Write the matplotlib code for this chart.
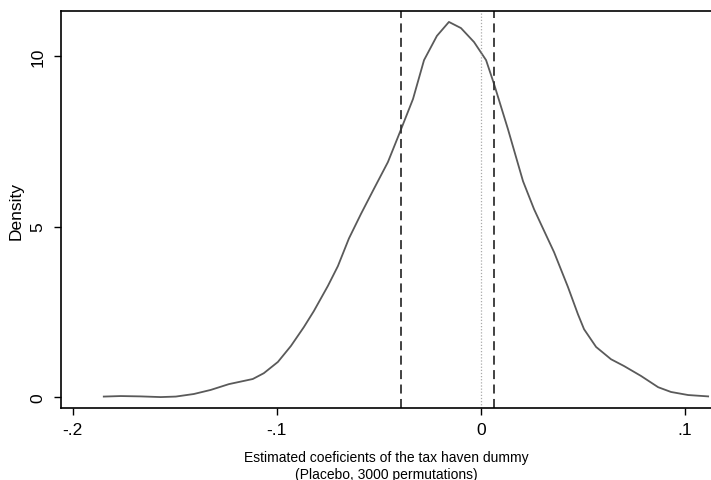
import matplotlib.pyplot as plt

# kernel density of placebo coefficients
coef = [-0.1848, -0.1765, -0.1667, -0.1569, -0.1495, -0.1407, -0.1324, -0.1235,
        -0.1118, -0.1064, -0.0995, -0.0931, -0.0868, -0.0819, -0.0750, -0.0701,
        -0.0647, -0.0588, -0.0525, -0.0456, -0.0397, -0.0333, -0.0279, -0.0216,
        -0.0157, -0.0098, -0.0034, 0.0025, 0.0064, 0.0132, 0.0206, 0.0260,
        0.0294, 0.0358, 0.0426, 0.0475, 0.0505, 0.0564, 0.0637, 0.0701,
        0.0784, 0.0868, 0.0931, 0.1015, 0.1113]
density = [0.015, 0.03, 0.02, 0.0, 0.015, 0.09, 0.21, 0.38,
           0.53, 0.70, 1.03, 1.50, 2.05, 2.52, 3.26, 3.84,
           4.65, 5.37, 6.10, 6.89, 7.77, 8.74, 9.88, 10.59,
           11.0, 10.82, 10.41, 9.88, 9.18, 7.86, 6.33, 5.51,
           5.07, 4.25, 3.23, 2.43, 1.99, 1.47, 1.11, 0.91,
           0.62, 0.29, 0.15, 0.06, 0.02]

ci_lines = [-0.039, 0.0064]
zero_line = 0.0

xticks = [-0.2, -0.1, 0, 0.1]
xtick_labels = ["-.2", "-.1", "0", ".1"]
yticks = [0, 5, 10]

plt.rcParams['font.family'] = ['Liberation Sans', 'DejaVu Sans']

fig = plt.figure(figsize=(7.11, 4.81), dpi=100)
ax = fig.add_axes([0.0854, 0.1497, 0.9146, 0.8253])

ax.plot(coef, density, color="#5a5a5a", lw=1.3)
for v in ci_lines:
    ax.axvline(v, color="#333333", lw=1.3, ls=(0, (5, 3)))
ax.axvline(zero_line, color="#aaaaaa", lw=0.9, ls=(0, (1, 1.5)))

ax.set_xlim(-0.2059, 0.1127)
ax.set_ylim(-0.32, 11.32)
ax.set_xticks(xticks)
ax.set_xticklabels(xtick_labels)
ax.set_yticks(yticks)
ax.set_yticklabels([str(t) for t in yticks], rotation=90, va="center")
ax.tick_params(direction="out", length=5, width=1, labelsize=12.5)
ax.tick_params(axis="x", pad=5)
ax.tick_params(axis="y", pad=6)

for s in ["top", "left", "bottom", "right"]:
    ax.spines[s].set_linewidth(1.2)
ax.spines["right"].set_visible(False)

ax.set_ylabel("Density", fontsize=12.5, labelpad=5)
ax.set_xlabel("Estimated coeficients of the tax haven dummy\n(Placebo, 3000 permutations)",
              fontsize=10, labelpad=9.5, linespacing=1.25)

fig.savefig("out.png", dpi=100)
